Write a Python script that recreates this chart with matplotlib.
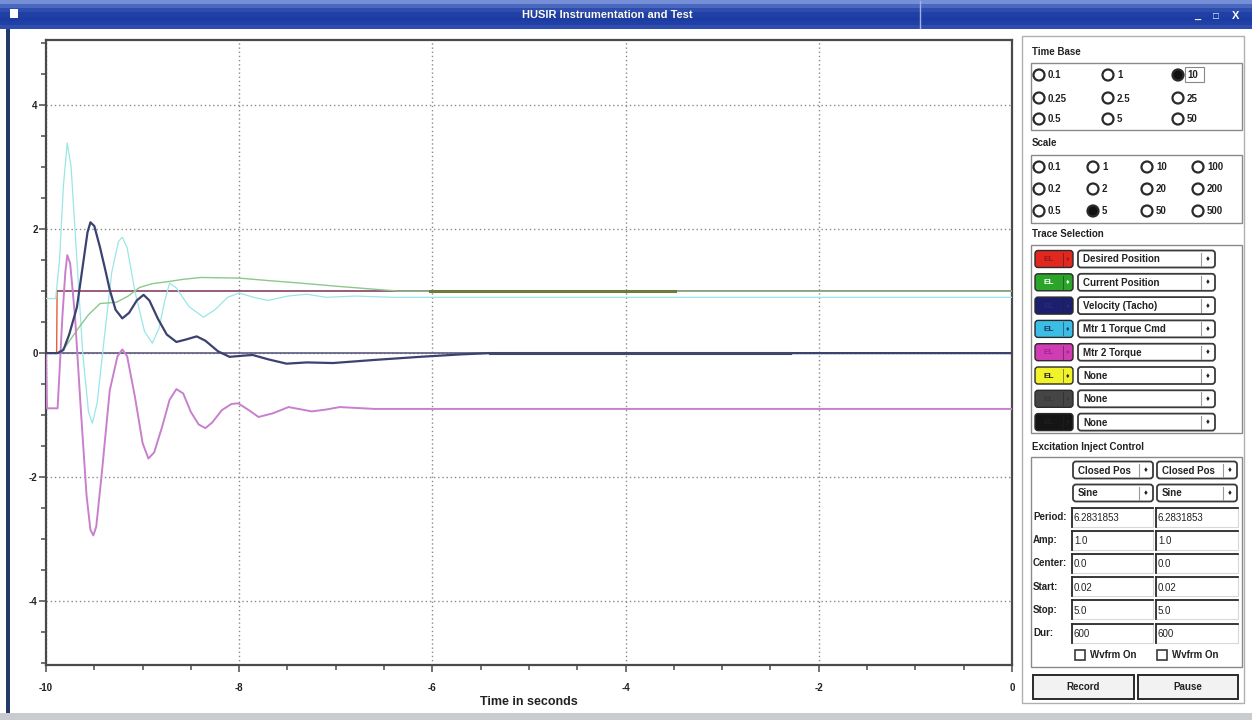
import numpy as np
import matplotlib
matplotlib.use("Agg")
import matplotlib.pyplot as plt
from matplotlib.patches import Rectangle, Circle, FancyBboxPatch

plt.rcParams['font.family'] = ['Liberation Sans', 'DejaVu Sans']

# ---- trace data (time in seconds) ----
desired_t = [-10.0, -9.89, -9.885, 0.0]
desired_v = [0.0, 0.0, 1.0, 1.0]

current_t = [-10.0, -9.88, -9.80, -9.68, -9.56, -9.44, -9.27, -9.15, -9.03, -8.90,
             -8.75, -8.58, -8.40, -8.00, -7.70, -7.37, -7.00, -6.60, -6.34, 0.0]
current_v = [0.0, 0.0, 0.10, 0.37, 0.62, 0.80, 0.82, 0.92, 1.06, 1.12,
             1.15, 1.19, 1.22, 1.21, 1.17, 1.13, 1.08, 1.03, 1.00, 1.00]

velocity_t = [-10.0, -9.88, -9.82, -9.76, -9.68, -9.62, -9.57, -9.54, -9.50, -9.44,
              -9.38, -9.34, -9.28, -9.21, -9.14, -9.06, -8.99, -8.93, -8.84, -8.75,
              -8.65, -8.55, -8.44, -8.35, -8.22, -8.10, -7.95, -7.86, -7.70, -7.51,
              -7.30, -7.03, -6.60, -6.13, -5.70, -5.40, 0.0]
velocity_v = [0.0, 0.0, 0.05, 0.30, 0.74, 1.40, 1.95, 2.11, 2.05, 1.70,
              1.30, 1.02, 0.70, 0.56, 0.65, 0.85, 0.94, 0.85, 0.55, 0.30,
              0.18, 0.22, 0.27, 0.20, 0.03, -0.06, -0.04, -0.03, -0.10, -0.17,
              -0.15, -0.16, -0.11, -0.06, -0.02, 0.0, 0.0]

torque1_t = [-10.0, -9.90, -9.86, -9.82, -9.78, -9.74, -9.68, -9.62, -9.56, -9.52,
             -9.47, -9.40, -9.32, -9.25, -9.21, -9.16, -9.08, -8.98, -8.90, -8.83,
             -8.77, -8.72, -8.65, -8.52, -8.37, -8.25, -8.12, -8.00, -7.85, -7.70,
             -7.50, -7.30, -7.10, -6.80, -6.40, 0.0]
torque1_v = [0.88, 0.88, 1.50, 2.70, 3.39, 3.00, 1.50, 0.00, -0.95, -1.13,
             -0.80, 0.20, 1.30, 1.80, 1.87, 1.70, 1.00, 0.35, 0.16, 0.40,
             0.85, 1.13, 1.05, 0.75, 0.58, 0.70, 0.90, 0.97, 0.90, 0.85,
             0.92, 0.95, 0.90, 0.92, 0.90, 0.90]

torque2_t = [-10.0, -9.99, -9.88, -9.86, -9.83, -9.80, -9.78, -9.75, -9.70, -9.64,
             -9.58, -9.54, -9.51, -9.48, -9.42, -9.34, -9.26, -9.21, -9.16, -9.08,
             -9.00, -8.94, -8.88, -8.80, -8.72, -8.65, -8.58, -8.50, -8.42, -8.35,
             -8.28, -8.18, -8.08, -8.01, -7.90, -7.80, -7.65, -7.49, -7.35, -7.25,
             -7.10, -6.96, -6.60, -6.13, 0.0]
torque2_v = [0.0, -0.89, -0.89, -0.30, 0.60, 1.30, 1.58, 1.45, 0.60, -0.90,
             -2.30, -2.85, -2.94, -2.80, -1.90, -0.60, -0.05, 0.06, -0.05, -0.70,
             -1.45, -1.70, -1.60, -1.20, -0.75, -0.58, -0.65, -0.95, -1.15, -1.21,
             -1.12, -0.92, -0.82, -0.81, -0.92, -1.03, -0.97, -0.87, -0.91, -0.94,
             -0.91, -0.87, -0.90, -0.90, -0.90]

none_t = [-10.0, 0.0]
none_v = [0.0, 0.0]

# heavier stretches of the traces seen on the screen
current_thick_t = [-6.02, -3.49]
current_thick_v = [1.0, 1.0]
velocity_thick_t = [-5.40, -2.30]
velocity_thick_v = [0.0, 0.0]

x_ticks = [-10, -8, -6, -4, -2, 0]
y_ticks = [-4, -2, 0, 2, 4]

# ---- side panel contents ----
time_base = [["0.1", "1", "10"], ["0.25", "2.5", "25"], ["0.5", "5", "50"]]
time_base_sel = (0, 2)
scale_opts = [["0.1", "1", "10", "100"], ["0.2", "2", "20", "200"], ["0.5", "5", "50", "500"]]
scale_sel = (2, 1)
trace_names = ["Desired Position", "Current Position", "Velocity (Tacho)", "Mtr 1 Torque Cmd",
               "Mtr 2 Torque", "None", "None", "None"]
trace_colors = ["#e0281e", "#2aa52a", "#1c1f6e", "#3cbde6", "#d03cb4", "#f2f22a", "#454545", "#151515"]
trace_el_colors = ["#a01818", "white", "#262a78", "#1c3a6a", "#a02890", "#222222", "#3a3a3a", "#1e1e1e"]
exc_labels = ["Period:", "Amp:", "Center:", "Start:", "Stop:", "Dur:"]
exc_values = ["6.2831853", "1.0", "0.0", "0.02", "5.0", "600"]

W, H = 1252, 720
fig = plt.figure(figsize=(W / 100, H / 100), dpi=100)
fig.patch.set_facecolor("white")

# pixel-space layer for the window chrome
bg = fig.add_axes([0, 0, 1, 1], zorder=0)
bg.set_xlim(0, W)
bg.set_ylim(H, 0)
bg.axis("off")

# title bar
grad = np.array([[0.0], [0.45], [0.75], [0.9], [0.95], [0.9], [0.75]])
bg.imshow(grad, extent=[0, W, 29, 0], aspect="auto", cmap=matplotlib.colors.LinearSegmentedColormap.from_list(
    "tb", ["#7690d8", "#1c3ca4"]), zorder=1)
bg.text(607, 15, "HUSIR Instrumentation and Test", color="#fbfbe8", fontsize=8, fontweight="bold",
        ha="center", va="center", zorder=3)
bg.add_patch(Rectangle((10, 9), 8, 9, facecolor="white", edgecolor="none", zorder=3))
bg.text(1197, 16, "_", color="white", fontsize=8, fontweight="bold", ha="center", va="center", zorder=3)
bg.text(1216, 16, "\u25a1", color="white", fontsize=7, fontweight="bold", ha="center", va="center", zorder=3)
bg.text(1236, 16, "X", color="white", fontsize=8, fontweight="bold", ha="center", va="center", zorder=3)
bg.plot([920, 920], [1, 28], color="#9fb2e6", lw=1, zorder=2)
# window frame
bg.add_patch(Rectangle((6, 29), 4, 686, facecolor="#243a6a", edgecolor="none", zorder=2))
bg.add_patch(Rectangle((0, 713), W, 7, facecolor="#c9cbcf", edgecolor="none", zorder=2))

FS = 7
EDGE = "#3a3a3a"


def radio(x, y, label, selected):
    bg.add_patch(Circle((x, y), 5.5, facecolor="#111111" if selected else "white",
                        edgecolor="#2a2a2a", lw=1.6, zorder=3))
    bg.text(x + 9, y + 0.5, label, fontsize=FS, fontweight="bold", va="center", color="#222", zorder=3)


def group_box(x0, y0, x1, y1):
    bg.add_patch(Rectangle((x0, y0), x1 - x0, y1 - y0, facecolor="none", edgecolor="#8a8a8a", lw=1.0, zorder=2))


def section(x, y, label):
    bg.text(x, y, label, fontsize=FS, fontweight="bold", va="center", color="#222", zorder=3)


def dropdown(x0, y, x1, label, h=17):
    bg.add_patch(FancyBboxPatch((x0, y - h / 2), x1 - x0, h, boxstyle="round,pad=0,rounding_size=3",
                                facecolor="white", edgecolor=EDGE, lw=1.3, zorder=3))
    bg.plot([x1 - 14, x1 - 14], [y - h / 2 + 2, y + h / 2 - 2], color="#999", lw=0.8, zorder=4)
    bg.text(x0 + 5, y + 0.5, label, fontsize=FS, fontweight="bold", va="center", color="#222", zorder=4)
    bg.text(x1 - 7, y + 0.5, "\u2666", fontsize=5.5, ha="center", va="center", color="#222", zorder=4)


def swatch(x0, y, x1, color, txt, h=17):
    bg.add_patch(FancyBboxPatch((x0, y - h / 2), x1 - x0, h, boxstyle="round,pad=0,rounding_size=3",
                                facecolor=color, edgecolor="#2a2a2a", lw=1.0, zorder=3))
    bg.plot([x1 - 10, x1 - 10], [y - h / 2 + 2, y + h / 2 - 2], color="#222", lw=0.6, alpha=0.6, zorder=4)
    bg.text(x0 + 8, y + 0.5, "EL", fontsize=6, fontweight="bold", va="center", color=txt, zorder=4)
    bg.text(x1 - 5, y + 0.5, "\u2666", fontsize=5, ha="center", va="center", color=txt, zorder=4)


def field(x0, y, x1, value, h=19):
    top = y - h / 2
    bg.add_patch(Rectangle((x0, top), x1 - x0, h, facecolor="white", edgecolor="#d8d8d8", lw=0.8, zorder=3))
    bg.plot([x0, x1], [top, top], color="#2a2a2a", lw=1.3, zorder=4)
    bg.plot([x0, x0], [top, top + h], color="#2a2a2a", lw=1.3, zorder=4)
    bg.text(x0 + 2, y + 1, value, fontsize=FS, va="center", color="#222", zorder=4)


def button(x0, y0, x1, y1, label):
    bg.add_patch(Rectangle((x0, y0), x1 - x0, y1 - y0, facecolor="#f2f2f2", edgecolor="#2a2a2a", lw=1.4, zorder=3))
    bg.text((x0 + x1) / 2, (y0 + y1) / 2 + 0.5, label, fontsize=FS, fontweight="bold",
            ha="center", va="center", color="#222", zorder=4)


# panel outline
bg.add_patch(Rectangle((1022, 36), 222, 667, facecolor="none", edgecolor="#b0b0b0", lw=1.0, zorder=2))

section(1032, 52, "Time Base")
group_box(1031, 63, 1242, 130)
tb_x = [1039, 1108, 1178]
tb_y = [75, 98, 119]
for r, row in enumerate(time_base):
    for c, lab in enumerate(row):
        radio(tb_x[c], tb_y[r], lab, (r, c) == time_base_sel)
bg.add_patch(Rectangle((1185, 67), 19, 15, facecolor="none", edgecolor="#888", lw=0.8, zorder=4))

section(1032, 143, "Scale")
group_box(1031, 155, 1242, 223)
sc_x = [1039, 1093, 1147, 1198]
sc_y = [167, 189, 211]
for r, row in enumerate(scale_opts):
    for c, lab in enumerate(row):
        radio(sc_x[c], sc_y[r], lab, (r, c) == scale_sel)

section(1032, 234, "Trace Selection")
group_box(1031, 245, 1242, 433)
for i, (name, col, tc) in enumerate(zip(trace_names, trace_colors, trace_el_colors)):
    yy = 259 + i * 23.3
    swatch(1035, yy, 1073, col, tc)
    dropdown(1078, yy, 1215, name)

section(1032, 447, "Excitation Inject Control")
group_box(1031, 457, 1242, 667)
dropdown(1073, 470, 1153, "Closed Pos")
dropdown(1157, 470, 1237, "Closed Pos")
dropdown(1073, 493, 1153, "Sine")
dropdown(1157, 493, 1237, "Sine")
for i, (lab, val) in enumerate(zip(exc_labels, exc_values)):
    yy = 517 + i * 23.2
    bg.text(1033, yy, lab, fontsize=FS, fontweight="bold", va="center", color="#222", zorder=3)
    field(1072, yy, 1153, val)
    field(1156, yy, 1238, val)
for bx in [1075, 1157]:
    bg.add_patch(Rectangle((bx, 650), 10, 10, facecolor="white", edgecolor=EDGE, lw=1.2, zorder=3))
    bg.text(bx + 15, 655.5, "Wvfrm On", fontsize=FS, fontweight="bold", va="center", color="#222", zorder=3)
button(1033, 675, 1134, 699, "Record")
button(1138, 675, 1238, 699, "Pause")

# ---- plot area ----
ax = fig.add_axes([46 / W, 1 - 665 / H, (1012 - 46) / W, (665 - 40) / H], zorder=2)
ax.set_facecolor("white")

ax.plot(none_t, none_v, color="#5c5c7e", lw=1.2, zorder=2)
ax.plot(desired_t[:3], desired_v[:3], color="#e0603a", lw=1.0, zorder=3)
ax.plot(desired_t[2:], desired_v[2:], color="#874066", lw=1.2, zorder=3)
ax.plot(torque1_t, torque1_v, color="#9ae6e6", lw=0.9, zorder=3)
ax.plot(current_t, current_v, color="#8cc88c", lw=1.0, zorder=4)
ax.plot(current_thick_t, current_thick_v, color="#6e7a3e", lw=2.2, zorder=4)
ax.plot(torque2_t, torque2_v, color="#c880cc", lw=1.4, zorder=4)
ax.plot(velocity_t, velocity_v, color="#3c4270", lw=1.6, zorder=5)
ax.plot(velocity_thick_t, velocity_thick_v, color="#40486a", lw=2.2, zorder=5)

ax.set_xlim(-10, 0)
ax.set_ylim(-5.03, 5.05)
ax.set_xticks(x_ticks)
ax.set_xticklabels([str(v) for v in x_ticks])
ax.set_yticks(y_ticks)
ax.set_yticklabels([str(v) for v in y_ticks])
ax.set_xticks(np.arange(-10, 0.01, 0.5), minor=True)
ax.set_yticks(np.arange(-5, 5.01, 0.5), minor=True)
ax.grid(True, which="major", color="#8a8a8a", lw=1.0, linestyle=(0, (1, 2)))
ax.tick_params(which="both", direction="out", colors="#4a4a4a", width=1.1)
ax.tick_params(which="major", length=5, labelsize=7, labelcolor="#222")
ax.tick_params(which="minor", length=3.5)
ax.tick_params(axis="x", pad=8)
ax.tick_params(axis="y", pad=1)
for lab in ax.get_xticklabels() + ax.get_yticklabels():
    lab.set_fontweight("bold")
for sp in ax.spines.values():
    sp.set_color("#4a4a4a")
    sp.set_linewidth(1.6)

ax.set_xlabel("Time in seconds", fontsize=9, fontweight="bold", color="#222")
ax.xaxis.set_label_coords(0.5, -(702 - 665) / 625)
ax.xaxis.label.set_va("center")

fig.savefig("out.png", dpi=100)
